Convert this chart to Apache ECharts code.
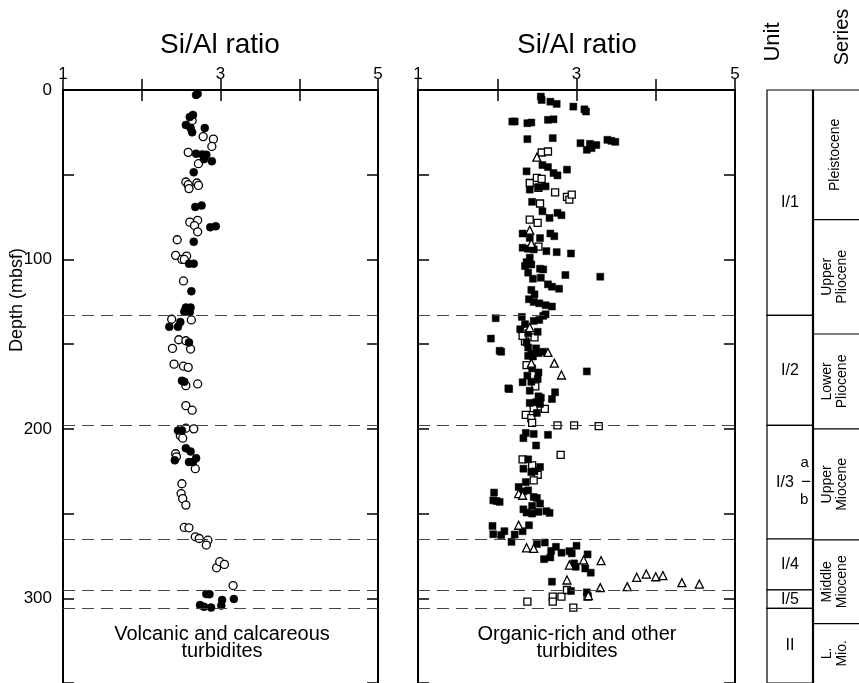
<!DOCTYPE html>
<html><head><meta charset="utf-8">
<script src="https://cdn.jsdelivr.net/npm/echarts@6/dist/echarts.min.js"></script>
<style>html,body{margin:0;padding:0;background:#fff}#c{width:859px;height:683px}</style>
</head><body><div id="c"></div><script>
// ---------- DATA ----------
const xTickLabels = [1, 3, 5];
const boundaryDepths = [133, 198, 265, 295, 306];

// Panel 1: Volcanic and calcareous turbidites  [Si/Al, depth]
const volcFilled = [[2.69,2.9],[2.71,2.2],[2.65,14.7],[2.61,16],[2.56,20.6],[2.62,22.5],[2.64,25],[2.80,22.5],[2.69,37.6],[2.77,38],[2.82,38.2],[2.79,40.8],[2.89,42],[2.66,48.6],[2.68,69],[2.76,68.2],[2.87,81],[2.94,80.4],[2.66,89.6],[2.60,102.5],[2.66,102.5],[2.63,118.8],[2.56,128.4],[2.62,128.4],[2.54,130.8],[2.61,131],[2.49,137],[2.35,139.8],[2.46,139.8],[2.60,149],[2.46,201],[2.51,201],[2.56,211.4],[2.62,213.3],[2.69,217.3],[2.42,218.6],[2.60,219.6],[2.65,219.6],[2.51,171.6],[2.54,172.2],[2.82,297.5],[2.86,297.6],[3.02,301],[3.17,300.4],[2.74,304],[2.79,305],[2.88,305.5],[3.01,304.3]];
const volcOpen = [[2.64,18],[2.78,27.5],[2.91,29],[2.89,33.3],[2.59,36.8],[2.72,43.5],[2.56,54.3],[2.59,55.9],[2.60,58.2],[2.70,54.9],[2.72,56.3],[2.61,78],[2.71,76.9],[2.67,80],[2.71,83.7],[2.45,88.4],[2.43,97.6],[2.51,100],[2.57,98],[2.54,100],[2.53,112.7],[2.38,135.3],[2.63,135.7],[2.47,147.4],[2.56,148],[2.39,152.5],[2.62,152.9],[2.41,161.8],[2.53,163],[2.59,163.7],[2.56,174.5],[2.71,173.5],[2.56,186.3],[2.64,189],[2.56,199.6],[2.66,200],[2.49,204],[2.52,205.5],[2.43,214.7],[2.44,216.5],[2.68,223.5],[2.51,232.4],[2.50,238.2],[2.52,241.2],[2.56,245],[2.54,258.2],[2.60,258.4],[2.68,263.7],[2.73,264.7],[2.84,265.7],[2.82,268.6],[2.95,282],[2.99,278.4],[3.05,280],[3.16,292.5]];

// Panel 2: Organic-rich and other turbidites  [Si/Al, depth]
const orgFilled = [[2.55,3.9],[2.56,5.9],[2.67,6.9],[2.75,8.2],[2.96,9.8],[3.10,11.4],[3.12,12.7],[2.19,18.6],[2.22,18.6],[2.38,19.6],[2.43,19.2],[2.64,17.6],[2.71,17.3],[2.38,29],[2.70,28.4],[3.05,31.4],[3.17,31.8],[3.25,32.5],[3.13,35.3],[3.19,34.3],[3.39,29.4],[3.44,30],[3.49,30.6],[2.37,48],[2.57,44.3],[2.64,45.5],[2.71,49],[2.76,50.4],[2.88,47],[2.41,58.8],[2.52,57.3],[2.61,56.9],[2.44,66],[2.57,71.6],[2.66,75.5],[2.76,72.5],[2.81,73.9],[2.32,84.7],[2.41,87.3],[2.54,87.4],[2.67,84.7],[2.72,86.3],[2.32,93.1],[2.39,93.7],[2.46,94.1],[2.62,95.1],[2.75,95.7],[2.93,96.5],[2.41,99],[2.37,101.6],[2.43,103],[2.35,103.9],[2.54,105.5],[2.58,105.9],[2.39,107.8],[2.45,111.4],[2.55,110.8],[2.86,109.2],[3.30,110.2],[2.64,114.7],[2.69,116.1],[2.78,117.3],[2.43,118],[2.47,120.6],[2.40,123.5],[2.46,125.1],[2.53,125.9],[2.61,127],[2.69,127.8],[2.58,133.3],[2.61,132.4],[1.98,134.7],[2.31,133.9],[2.46,136.3],[2.53,135.7],[2.35,138.2],[2.29,141.2],[2.51,142.7],[2.39,143.5],[1.92,146.7],[2.37,149],[2.03,153.9],[2.05,154.5],[2.39,152],[2.49,152.5],[2.43,155.9],[2.52,155.3],[2.58,154.5],[2.39,156.9],[2.45,157.3],[3.13,166.1],[2.44,164.3],[2.52,166.7],[2.38,168.6],[2.51,170.6],[2.32,172.5],[2.43,172.2],[2.14,176.1],[2.15,176.5],[2.41,177.5],[2.73,178.4],[2.52,180.8],[2.55,181.6],[2.69,182.4],[2.41,184.7],[2.49,184.3],[2.54,185.3],[2.50,190.6],[2.36,202.4],[2.33,205.5],[2.46,203],[2.64,203.5],[2.49,209.8],[2.39,218],[2.54,222.5],[2.33,223.5],[2.43,225.5],[2.47,225.1],[2.36,231.4],[2.27,234.3],[2.33,236.9],[2.39,236.3],[2.46,240.2],[2.50,240.8],[1.96,237.6],[1.95,242.2],[2.03,243.1],[1.99,242.6],[2.44,245.5],[2.54,244.1],[2.33,247.5],[2.37,249.4],[2.44,250],[2.52,249],[2.62,248.6],[2.66,249.6],[1.94,257.3],[2.40,256.9],[1.95,262.2],[2.05,262.7],[2.09,260.4],[2.22,262.4],[2.32,260.4],[2.18,266.7],[2.50,268],[2.60,267.1],[2.74,269.6],[3.00,269],[2.68,272],[2.81,273.1],[2.91,272.2],[2.94,273.5],[3.14,274.1],[2.59,276.9],[2.67,275.9],[2.97,279.4],[2.99,281.4],[3.11,282.4],[3.18,284.9],[2.69,290.2],[2.93,295.7],[3.13,296.5]];
const orgOpenSq = [[2.56,36.9],[2.64,36.3],[2.50,51.9],[2.56,52.4],[2.41,54.9],[2.52,57.8],[2.73,60.4],[2.88,63.1],[2.91,64.7],[2.94,61.8],[2.54,67],[2.41,76.5],[2.51,78.4],[2.52,92.5],[2.35,148.4],[2.32,145.1],[2.47,146],[2.37,162.4],[2.48,174.9],[2.60,188.2],[2.46,187.8],[2.36,191.8],[2.43,193.7],[2.44,196.5],[2.76,198],[2.97,198],[3.28,198.4],[2.80,215.3],[2.32,218],[2.44,221.6],[2.51,227.1],[2.46,230.4],[2.38,302],[2.70,299],[2.70,302],[2.81,299],[2.88,295.1],[2.96,305.5],[3.14,299]];
const orgTriangle = [[2.50,39.6],[2.41,82.7],[2.43,90.6],[2.41,140.2],[2.64,154.9],[2.72,161.2],[2.81,168.2],[2.43,161.2],[2.27,238.2],[2.32,239.2],[2.27,256.9],[2.37,270.2],[2.46,270.6],[3.09,277.4],[3.31,277.8],[2.91,280.4],[2.88,289.2],[3.30,293.7],[3.64,293.1],[3.76,287.6],[3.88,285.7],[4.00,287.3],[4.09,286.6],[4.33,290.8],[4.55,291.6],[3.15,298.4]];

// Stratigraphic columns
const unitNames = ['I/1','I/2','I/3','I/4','I/5','II'];
const unitTop  = [0, 133, 198, 265, 295, 306];
const unitBase = [133, 198, 265, 295, 306, 350];
const subunitNames = ['a','b'];
const subunitBoundary = 231;
const seriesNames = ['Pleistocene','Upper\nPliocene','Lower\nPliocene','Upper\nMiocene','Middle\nMiocene','L.\nMio.'];
const seriesTop  = [0, 76.5, 144, 200, 265.5, 315];
const seriesBase = [76.5, 144, 200, 265.5, 315, 350];

// ---------- CHART ----------
const FONT = '"Liberation Sans", Arial, Helvetica, sans-serif';
const chart = echarts.init(document.getElementById('c'), null, {renderer:'canvas'});
const GT = 90, GH = 595;
const grids = [
  {left:63, top:GT, width:315, height:GH},
  {left:418, top:GT, width:317, height:GH},
  {left:767, top:GT, width:98, height:GH}
];
const axLine = {show:true, lineStyle:{color:'#000', width:2}};
const tick = {show:true, inside:true, length:11, lineStyle:{color:'#000', width:1.5}};
function xTop(g){ return {gridIndex:g, type:'value', position:'top', min:1, max:5, interval:1,
  axisLine:axLine, axisTick:tick, splitLine:{show:false},
  axisLabel:{show:true, margin:7, fontSize:17, color:'#000', fontFamily:FONT, showMinLabel:true, showMaxLabel:true,
    formatter:v => xTickLabels.includes(v) ? String(v) : ''}}; }
function xBot(g){ return {gridIndex:g, type:'value', position:'bottom', min:1, max:5, interval:1,
  axisLine:axLine, axisTick:tick, splitLine:{show:false}, axisLabel:{show:false}}; }
function yAx(g, pos, labels){ return {gridIndex:g, type:'value', position:pos, inverse:true, min:0, max:350, interval:50,
  axisLine:axLine, axisTick:tick, splitLine:{show:false},
  axisLabel:{show:labels, margin:11, fontSize:17, color:'#000', fontFamily:FONT, formatter:v => (v%100===0 ? String(v) : '')}}; }

const dashed = {symbol:'none', silent:true, label:{show:false}, animation:false,
  lineStyle:{type:[12,7], color:'#444', width:1}, data:boundaryDepths.map(d=>({yAxis:d}))};

function sc(name, data, xi, yi, symbol, size, filled, extra){
  return Object.assign({type:'scatter', name, data, xAxisIndex:xi, yAxisIndex:yi, symbol, symbolSize:size,
    itemStyle: filled ? {color:'#000', borderColor:'#000', borderWidth:0.5, opacity:1} : {color:'#fff', borderColor:'#000', borderWidth:1.3, opacity:1},
    emphasis:{disabled:true}, animation:false}, extra||{});
}

const unitData = unitNames.map((n,i)=>[0, unitTop[i], unitBase[i]]);
const seriesData = seriesNames.map((n,i)=>[1, seriesTop[i], seriesBase[i]]);

const option = {
  backgroundColor:'#fff',
  animation:false,
  grid: grids,
  xAxis: [xTop(0), xBot(0), xTop(1), xBot(1),
    {gridIndex:2, type:'value', min:0, max:2, show:false}],
  yAxis: [yAx(0,'left',true), yAx(0,'right',false), yAx(1,'left',false), yAx(1,'right',false),
    {gridIndex:2, type:'value', min:0, max:350, inverse:true, show:false}],
  graphic: [
    {type:'text', x:220, y:45, style:{text:'Si/Al ratio', align:'center', verticalAlign:'middle', font:'28px '+FONT, fill:'#000'}},
    {type:'text', x:577, y:45, style:{text:'Si/Al ratio', align:'center', verticalAlign:'middle', font:'28px '+FONT, fill:'#000'}},
    {type:'text', x:17, y:300, rotation:Math.PI/2, style:{text:'Depth (mbsf)', align:'center', verticalAlign:'middle', font:'18px '+FONT, fill:'#000'}},
    {type:'text', x:222, y:643, style:{text:'Volcanic and calcareous\nturbidites', align:'center', verticalAlign:'middle', font:'20px '+FONT, lineHeight:17, fill:'#000'}},
    {type:'text', x:577, y:643, style:{text:'Organic-rich and other\nturbidites', align:'center', verticalAlign:'middle', font:'20px '+FONT, lineHeight:17, fill:'#000'}},
    {type:'text', x:773, y:42, rotation:Math.PI/2, style:{text:'Unit', align:'center', verticalAlign:'middle', font:'22px '+FONT, fill:'#000'}},
    {type:'text', x:842, y:37, rotation:Math.PI/2, style:{text:'Series', align:'center', verticalAlign:'middle', font:'20px '+FONT, fill:'#000'}}
  ],
  series: [
    sc('volc-open', volcOpen, 0, 0, 'circle', 8, false, {markLine:dashed, z:2}),
    sc('volc-filled', volcFilled, 0, 0, 'circle', 8, true, {z:3}),
    sc('org-open-sq', orgOpenSq, 2, 2, 'rect', 7, false, {markLine:dashed, z:2}),
    sc('org-filled', orgFilled, 2, 2, 'rect', 7, true, {z:3}),
    sc('org-tri', orgTriangle, 2, 2, 'triangle', 8, false, {z:4}),
    {type:'custom', name:'units', xAxisIndex:4, yAxisIndex:4, data:unitData, encode:{x:0, y:[1,2]}, animation:false, silent:true,
      renderItem(params, api){
        const i = params.dataIndex;
        const p0 = api.coord([0, api.value(1)]), p1 = api.coord([1, api.value(2)]);
        const cx = (p0[0]+p1[0])/2, cy = (p0[1]+p1[1])/2;
        const ch = [
          {type:'rect', shape:{x:p0[0], y:p0[1], width:p1[0]-p0[0], height:p1[1]-p0[1]}, style:{fill:'#fff', stroke:'#000', lineWidth:1.2}},
          {type:'text', x: unitNames[i]==='I/3' ? cx-5 : cx, y:cy, style:{text:unitNames[i], align:'center', verticalAlign:'middle', font:'16px '+FONT, fill:'#000'}}
        ];
        return {type:'group', children:ch};
      }},
    {type:'custom', name:'subunits', xAxisIndex:4, yAxisIndex:4, data:[[0.85, subunitBoundary]], animation:false, silent:true,
      renderItem(params, api){
        const d = api.value(1);
        const a = api.coord([0.76, d]), b = api.coord([0.94, d]);
        const pa = api.coord([0.82, d-11]), pb = api.coord([0.81, d+11]);
        return {type:'group', children:[
          {type:'line', shape:{x1:a[0], y1:a[1], x2:b[0], y2:b[1]}, style:{stroke:'#000', lineWidth:1.2}},
          {type:'text', x:pa[0], y:pa[1], style:{text:subunitNames[0], align:'center', verticalAlign:'middle', font:'15px '+FONT, fill:'#000'}},
          {type:'text', x:pb[0], y:pb[1], style:{text:subunitNames[1], align:'center', verticalAlign:'middle', font:'15px '+FONT, fill:'#000'}}
        ]};
      }},
    {type:'custom', name:'series', xAxisIndex:4, yAxisIndex:4, data:seriesData, encode:{x:0, y:[1,2]}, animation:false, silent:true,
      renderItem(params, api){
        const i = params.dataIndex;
        const p0 = api.coord([1, api.value(1)]), p1 = api.coord([2, api.value(2)]);
        const cy = (p0[1]+p1[1])/2;
        const cx = p0[0] + 22;
        return {type:'group', children:[
          {type:'line', shape:{x1:p0[0], y1:p0[1], x2:p1[0], y2:p0[1]}, style:{stroke:'#000', lineWidth:1.2}},
          {type:'line', shape:{x1:p0[0], y1:p0[1], x2:p0[0], y2:p1[1]}, style:{stroke:'#000', lineWidth:2.2}},
          {type:'text', x:cx, y:cy, rotation:Math.PI/2, style:{text:seriesNames[i], align:'center', verticalAlign:'middle', font:'14px '+FONT, lineHeight:15, fill:'#000'}}
        ]};
      }}
  ]
};
chart.setOption(option);
</script></body></html>
